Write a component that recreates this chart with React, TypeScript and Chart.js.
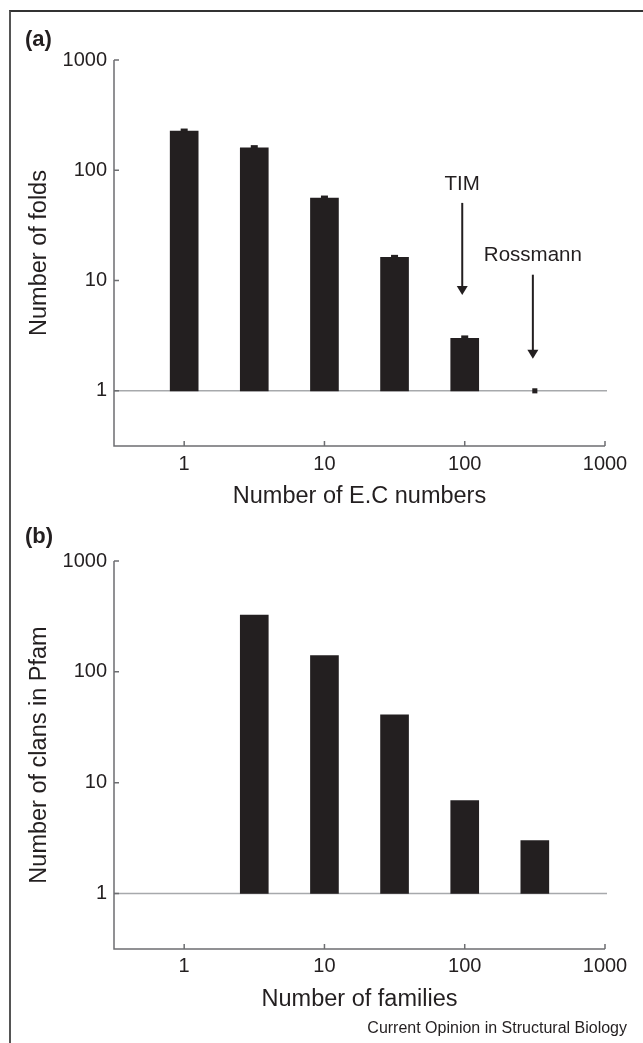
import React, { useEffect, useRef } from "react";
import { Chart, registerables } from "chart.js";

Chart.register(...registerables);

const FONT = "'Liberation Sans', Arial, Helvetica, sans-serif";
const INK = "#231f20";
const AXIS = "#6d6e71";
const REF = "#a7a9ac";

// ---- Panel (a): folds vs number of E.C numbers ----
const ecBins = [1, 3.16, 10, 31.6, 100];
const foldCounts = [227, 160, 56, 16.2, 3.0];
const foldErrors = [12, 9, 3, 0.9, 0.18];
const rossmannX = [316];
const rossmannY = [1];
const annotLabels = ["TIM", "Rossmann"];
const annotX = [96, 306];
const annotTextY = [74, 17.1];
const annotArrowFrom = [50.6, 11.3];
const annotArrowTo = [7.4, 1.95];

// ---- Panel (b): clans in Pfam vs number of families ----
const familyBins = [3.16, 10, 31.6, 100, 316];
const clanCounts = [326, 140, 41, 6.9, 3.0];

// ---- Shared axes ----
const xTickValues = [1, 10, 100, 1000];
const yTickValues = [1, 10, 100, 1000];
const axisMin = 0.316;
const axisMax = 1000;

const footerText = "Current Opinion in Structural Biology";

type PanelSpec = {
  label: string;
  labelY: number;
  xTitle: string;
  yTitle: string;
  top: number;
  xScaleHeight: number;
  xTickPad: number;
  xTitlePad: number;
  datasets: any[];
  extraDraw?: (chart: any) => void;
};

function decorPlugin(p: PanelSpec) {
  return {
    id: "decor",
    beforeDatasetsDraw(chart: any) {
      const { ctx, chartArea: a, scales } = chart;
      const y1 = scales.y.getPixelForValue(1);
      ctx.save();
      ctx.strokeStyle = REF;
      ctx.lineWidth = 1.5;
      ctx.beginPath();
      ctx.moveTo(a.left, y1);
      ctx.lineTo(a.right + 2, y1);
      ctx.stroke();
      ctx.restore();
    },
    afterDraw(chart: any) {
      const { ctx, chartArea: a, scales } = chart;
      const x = scales.x;
      const y = scales.y;
      ctx.save();
      ctx.strokeStyle = AXIS;
      ctx.lineWidth = 1.5;
      ctx.beginPath();
      ctx.moveTo(a.left, a.top);
      ctx.lineTo(a.left, a.bottom);
      ctx.lineTo(a.right, a.bottom);
      for (const v of yTickValues) {
        const py = y.getPixelForValue(v);
        ctx.moveTo(a.left, py);
        ctx.lineTo(a.left + 5, py);
      }
      for (const v of xTickValues) {
        const px = x.getPixelForValue(v);
        ctx.moveTo(px, a.bottom);
        ctx.lineTo(px, a.bottom - 5);
      }
      ctx.stroke();
      ctx.fillStyle = INK;
      ctx.font = `bold 22px ${FONT}`;
      ctx.textAlign = "left";
      ctx.textBaseline = "middle";
      ctx.fillText(p.label, 25, p.labelY);
      if (p.extraDraw) p.extraDraw(chart);
      ctx.restore();
    },
  };
}

function makeConfig(p: PanelSpec): any {
  return {
    type: "bar",
    data: { datasets: p.datasets },
    options: {
      animation: false,
      responsive: false,
      devicePixelRatio: 1,
      layout: { padding: { left: 0, top: p.top, right: 38, bottom: 0 } },
      plugins: { legend: { display: false }, tooltip: { enabled: false } },
      scales: {
        x: {
          type: "logarithmic",
          min: axisMin,
          max: axisMax,
          bounds: "data",
          offset: false,
          grid: { display: false, drawTicks: false, offset: false },
          border: { display: false },
          afterBuildTicks: (s: any) => {
            s.ticks = xTickValues.map((v) => ({ value: v }));
          },
          afterFit: (s: any) => {
            s.height = p.xScaleHeight;
          },
          ticks: {
            color: INK,
            font: { family: FONT, size: 20 },
            padding: p.xTickPad,
            autoSkip: false,
            maxRotation: 0,
            callback: (v: any) => String(v),
          },
          title: {
            display: true,
            text: p.xTitle,
            color: INK,
            font: { family: FONT, size: 23.5 },
            padding: { top: 0, bottom: p.xTitlePad },
          },
        },
        y: {
          type: "logarithmic",
          min: axisMin,
          max: axisMax,
          bounds: "data",
          grid: { display: false, drawTicks: false },
          border: { display: false },
          afterBuildTicks: (s: any) => {
            s.ticks = yTickValues.map((v) => ({ value: v }));
          },
          afterFit: (s: any) => {
            s.width = 114;
          },
          ticks: {
            color: INK,
            font: { family: FONT, size: 20 },
            padding: 7,
            autoSkip: false,
            callback: (v: any) => String(v),
          },
          title: {
            display: true,
            text: p.yTitle,
            color: INK,
            font: { family: FONT, size: 23.5 },
            padding: { top: 25, bottom: 0 },
          },
        },
      },
    },
    plugins: [decorPlugin(p)],
  };
}

function drawPanelA(chart: any) {
  const { ctx, scales } = chart;
  const x = scales.x;
  const y = scales.y;
  ctx.fillStyle = INK;
  ecBins.forEach((b, i) => {
    const cx = x.getPixelForValue(b);
    const top = y.getPixelForValue(foldCounts[i] + foldErrors[i]);
    const bot = y.getPixelForValue(foldCounts[i]);
    ctx.fillRect(cx - 3.5, top, 7, bot - top + 1);
  });
  ctx.font = `20.5px ${FONT}`;
  ctx.textAlign = "center";
  ctx.textBaseline = "middle";
  ctx.strokeStyle = INK;
  ctx.lineWidth = 2;
  annotLabels.forEach((t, i) => {
    const ax = x.getPixelForValue(annotX[i]);
    ctx.fillText(t, ax, y.getPixelForValue(annotTextY[i]));
    const y0 = y.getPixelForValue(annotArrowFrom[i]);
    const y1 = y.getPixelForValue(annotArrowTo[i]);
    ctx.beginPath();
    ctx.moveTo(ax, y0);
    ctx.lineTo(ax, y1 - 6);
    ctx.stroke();
    ctx.beginPath();
    ctx.moveTo(ax - 5.5, y1 - 9);
    ctx.lineTo(ax + 5.5, y1 - 9);
    ctx.lineTo(ax, y1);
    ctx.closePath();
    ctx.fill();
  });
}

function drawPanelB(chart: any) {
  const { ctx } = chart;
  ctx.fillStyle = INK;
  ctx.font = `16px ${FONT}`;
  ctx.textAlign = "right";
  ctx.textBaseline = "middle";
  ctx.fillText(footerText, 627, 529);
}

const panelA: PanelSpec = {
  label: "(a)",
  labelY: 40,
  xTitle: "Number of E.C numbers",
  yTitle: "Number of folds",
  top: 60,
  xScaleHeight: 74,
  xTickPad: 6,
  xTitlePad: 9,
  datasets: [
    {
      type: "bar",
      data: ecBins.map((b, i) => ({ x: b, y: foldCounts[i] })),
      base: 1,
      backgroundColor: INK,
      borderWidth: 0,
      barThickness: 28,
    },
    {
      type: "scatter",
      data: rossmannX.map((b, i) => ({ x: b, y: rossmannY[i] })),
      pointStyle: "rect",
      pointRadius: 3.6,
      backgroundColor: INK,
      borderWidth: 0,
    },
  ],
  extraDraw: drawPanelA,
};

const panelB: PanelSpec = {
  label: "(b)",
  labelY: 37,
  xTitle: "Number of families",
  yTitle: "Number of clans in Pfam",
  top: 61,
  xScaleHeight: 94,
  xTickPad: 5,
  xTitlePad: 29,
  datasets: [
    {
      type: "bar",
      data: familyBins.map((b, i) => ({ x: b, y: clanCounts[i] })),
      base: 1,
      backgroundColor: INK,
      borderWidth: 0,
      barThickness: 28,
    },
  ],
  extraDraw: drawPanelB,
};

function Panel({ spec, top, height }: { spec: PanelSpec; top: number; height: number }) {
  const ref = useRef<HTMLCanvasElement | null>(null);
  useEffect(() => {
    if (!ref.current) return;
    const chart = new Chart(ref.current, makeConfig(spec));
    return () => chart.destroy();
  }, [spec]);
  return (
    <canvas
      ref={ref}
      width={643}
      height={height}
      style={{ position: "absolute", left: 0, top, width: 643, height }}
    />
  );
}

export default function App() {
  Chart.defaults.font.family = FONT;
  return (
    <div
      style={{
        position: "fixed",
        left: 0,
        top: 0,
        width: 643,
        height: 1043,
        background: "#fff",
        overflow: "hidden",
      }}
    >
      <Panel spec={panelA} top={0} height={520} />
      <Panel spec={panelB} top={500} height={543} />
      <div
        style={{
          position: "absolute",
          left: 9,
          top: 10,
          right: -4,
          bottom: -4,
          borderTop: "2px solid #333",
          borderLeft: "2px solid #555",
          pointerEvents: "none",
        }}
      />
    </div>
  );
}
